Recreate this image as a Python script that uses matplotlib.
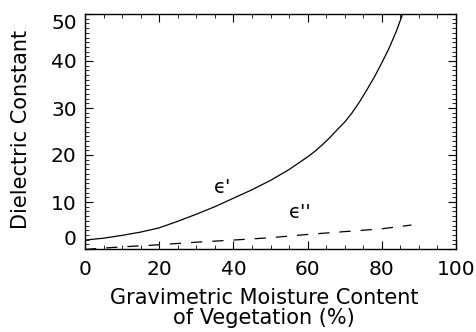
import numpy as np
import matplotlib
matplotlib.use("Agg")
import matplotlib.pyplot as plt
from matplotlib.ticker import MultipleLocator

## Data ##
moist_real = [0, 5, 10, 15, 20, 25, 30, 35, 40, 45, 50, 55, 60, 62, 64, 66, 68,
              70, 72, 74, 76, 78, 80, 82, 84, 86]
eps_real = [1.9, 2.3, 2.9, 3.6, 4.5, 5.9, 7.4, 9.0, 10.8, 12.6, 14.6, 16.9, 19.6,
            20.8, 22.2, 23.7, 25.4, 27.0, 29.0, 31.3, 33.9, 36.6, 39.6, 42.8,
            46.5, 50.8]

moist_imag = [0, 5, 10, 20, 30, 40, 50, 60, 70, 80, 88]
eps_imag = [-0.1, 0.2, 0.45, 0.9, 1.45, 1.9, 2.4, 3.1, 3.7, 4.3, 5.1]

xticks = [0, 20, 40, 60, 80, 100]
yticks = [0, 10, 20, 30, 40, 50]

plt.rcParams['font.family'] = ['DejaVu Sans']

fig = plt.figure( figsize=(4.76, 3.32), dpi=100 )
ax = fig.add_axes( [ 85/476, 83/332, 371/476, 235/332 ] )

ax.plot( moist_real, eps_real, color="k", lw=0.9 )
ax.plot( moist_imag, eps_imag, color="k", lw=0.9, dashes=(9, 8) )

ax.set_xlim( 0, 100 )
ax.set_ylim( 0, 50 )
ax.set_xticks( xticks )
ax.set_yticks( yticks )
ax.xaxis.set_minor_locator( MultipleLocator( 5 ) )
ax.yaxis.set_minor_locator( MultipleLocator( 1 ) )
ax.tick_params( which="both", direction="in", top=True, right=True,
                labelsize=14.5, colors="k" )
ax.tick_params( axis="x", which="major", pad=8 )
ax.tick_params( axis="y", which="major", pad=6 )
ax.tick_params( which="major", length=6, width=0.8 )
ax.tick_params( which="minor", length=3, width=0.6 )
for s in ax.spines.values():
    s.set_linewidth( 1.0 )

# keep end labels inside the axis range, as in the original
ylabs = ax.get_yticklabels()
ylabs[0].set_va( "bottom" )
ylabs[-1].set_va( "top" )

ax.set_ylabel( "Dielectric Constant", fontsize=15 )
ax.yaxis.set_label_coords( -0.145, 0.51 )
ax.set_xlabel( "Gravimetric Moisture Content\nof Vegetation (%)", fontsize=15,
               linespacing=1.0 )
ax.xaxis.set_label_coords( 0.483, -0.165 )
ax.xaxis.label.set_va( "top" )

ax.text( 37, 13.0, "\u03f5'", fontsize=14, ha="center", va="center" )
ax.text( 58, 7.7, "\u03f5''", fontsize=14, ha="center", va="center" )

fig.savefig( "out.png", dpi=100 )
